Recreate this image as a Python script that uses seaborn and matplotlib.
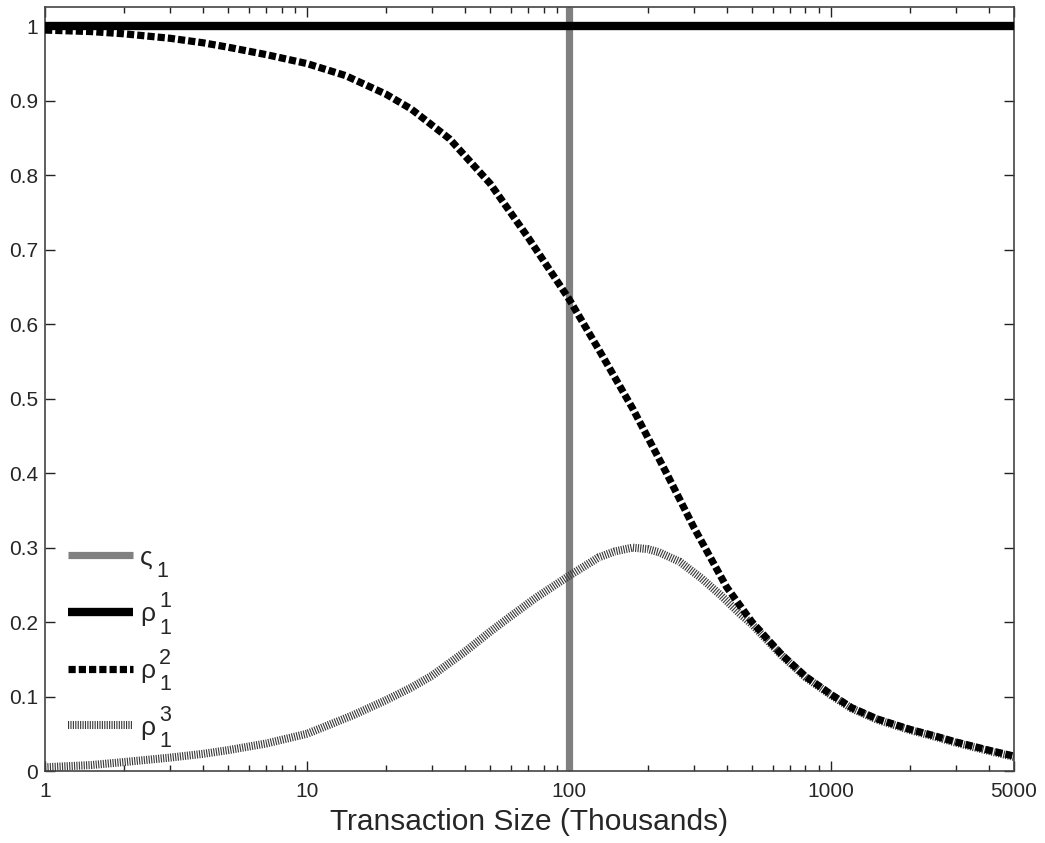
import numpy as np
import pandas as pd
import matplotlib
matplotlib.use("Agg")
import matplotlib.pyplot as plt
import matplotlib.ticker as mticker
import seaborn as sns

# Transaction sizes (thousands) and the probability curves
size_r2 = [1, 1.5, 2, 3, 4, 5, 7, 10, 14, 20, 25, 35, 50, 70, 100, 130, 175,
           235, 300, 400, 500, 650, 800, 1000, 1200, 1500, 2000, 2500, 3000,
           4000, 5000]
rho_1_2 = [0.995, 0.993, 0.990, 0.984, 0.978, 0.972, 0.962, 0.950, 0.934,
           0.909, 0.889, 0.849, 0.789, 0.716, 0.634, 0.566, 0.487, 0.401,
           0.327, 0.247, 0.200, 0.156, 0.127, 0.103, 0.085, 0.070, 0.056,
           0.047, 0.039, 0.028, 0.020]

size_r3 = [1, 1.5, 2, 3, 4, 5, 7, 10, 15, 20, 25, 30, 40, 50, 60, 75, 100,
           130, 150, 175, 200, 220, 265, 320, 380, 450, 500, 650, 800, 1000,
           1200, 1500, 2000, 2500, 3000, 4000, 5000]
rho_1_3 = [0.005, 0.008, 0.012, 0.018, 0.023, 0.028, 0.037, 0.050, 0.075,
           0.095, 0.112, 0.128, 0.160, 0.187, 0.208, 0.233, 0.262, 0.287,
           0.295, 0.300, 0.298, 0.294, 0.281, 0.259, 0.236, 0.211, 0.197,
           0.155, 0.126, 0.102, 0.084, 0.069, 0.055, 0.046, 0.038, 0.027,
           0.019]

rho_1_1 = 1.0          # constant level
varsigma_1 = 100       # threshold size

x_ticks = [1, 10, 100, 1000, 5000]
y_ticks = [0, 0.1, 0.2, 0.3, 0.4, 0.5, 0.6, 0.7, 0.8, 0.9, 1]

# legend symbols with their superscript / subscript indices
leg_base = ["\u03c2", "\u03c1", "\u03c1", "\u03c1"]
leg_sup = ["", "1", "2", "3"]
leg_sub = ["1", "1", "1", "1"]

sns.set_style("ticks")
plt.rcParams["font.family"] = ["Liberation Sans", "DejaVu Sans"]

fig = plt.figure(figsize=(10.45, 8.43), dpi=100)
ax = fig.add_axes([0.0431, 0.0854, 0.9272, 0.9063])

df2 = pd.DataFrame({"size": size_r2, "p": rho_1_2})
df3 = pd.DataFrame({"size": size_r3, "p": rho_1_3})

# vertical threshold line
ax.axvline(varsigma_1, color="#808080", lw=5.2, zorder=2, label=leg_base[0],
           solid_capstyle="butt")
# constant line at one
ax.axhline(rho_1_1, color="black", lw=6.0, zorder=3, label=leg_base[1],
           solid_capstyle="butt")

sns.lineplot(data=df2, x="size", y="p", ax=ax, color="black", lw=5.2,
             zorder=5, label=leg_base[2])
ax.lines[-1].set_dashes((1.0, 0.42))
ax.lines[-1].set_dash_capstyle("butt")

sns.lineplot(data=df3, x="size", y="p", ax=ax, color="#3a3a3a", lw=5.8,
             zorder=4, label=leg_base[3])
ax.lines[-1].set_dashes((0.14, 0.16))

ax.set_xscale("log")
ax.set_xlim(1, 5000)
ax.set_ylim(0, 1.026)
ax.set_xticks(x_ticks)
ax.xaxis.set_major_formatter(mticker.FixedFormatter([str(t) for t in x_ticks]))
ax.xaxis.set_minor_locator(mticker.LogLocator(base=10, subs=np.arange(2, 10), numticks=20))
ax.xaxis.set_minor_formatter(mticker.NullFormatter())
ax.set_yticks(y_ticks)
ax.set_yticklabels(["%g" % t for t in y_ticks])

ax.tick_params(which="both", direction="in", top=True, right=True,
               color="#222222", labelsize=15)
ax.tick_params(which="major", length=7, width=1)
ax.tick_params(which="minor", length=4, width=1)
ax.tick_params(axis="x", pad=8)
ax.tick_params(axis="y", pad=5)
for s in ax.spines.values():
    s.set_color("#444444")
    s.set_linewidth(1.2)

ax.set_xlabel("Transaction Size (Thousands)", fontsize=21.5, labelpad=5)
ax.set_ylabel("")

handles, labels = ax.get_legend_handles_labels()
leg = ax.legend(handles, labels, loc="upper left", frameon=False, fontsize=19,
                handlelength=2.46, handletextpad=0.27, labelspacing=1.24,
                borderpad=0.4, borderaxespad=0.0,
                bbox_to_anchor=(0.0128, 0.309))
for h in leg.legend_handles:
    h.set_solid_capstyle("butt")
    h.set_dash_capstyle("butt")

# stacked indices to the right of each legend symbol (drawn after the legend)
for txt, sup, sub in zip(leg.get_texts(), leg_sup, leg_sub):
    if sup:
        ax.annotate(sup, xy=(1, 0), xycoords=txt, xytext=(2.8, 13.7),
                    textcoords="offset points", fontsize=15.5, va="baseline",
                    ha="left", annotation_clip=False, zorder=10)
    if sub:
        ax.annotate(sub, xy=(1, 0), xycoords=txt, xytext=(2.8, -5.4),
                    textcoords="offset points", fontsize=15.5, va="baseline",
                    ha="left", annotation_clip=False, zorder=10)

fig.savefig("out.png", dpi=100)
